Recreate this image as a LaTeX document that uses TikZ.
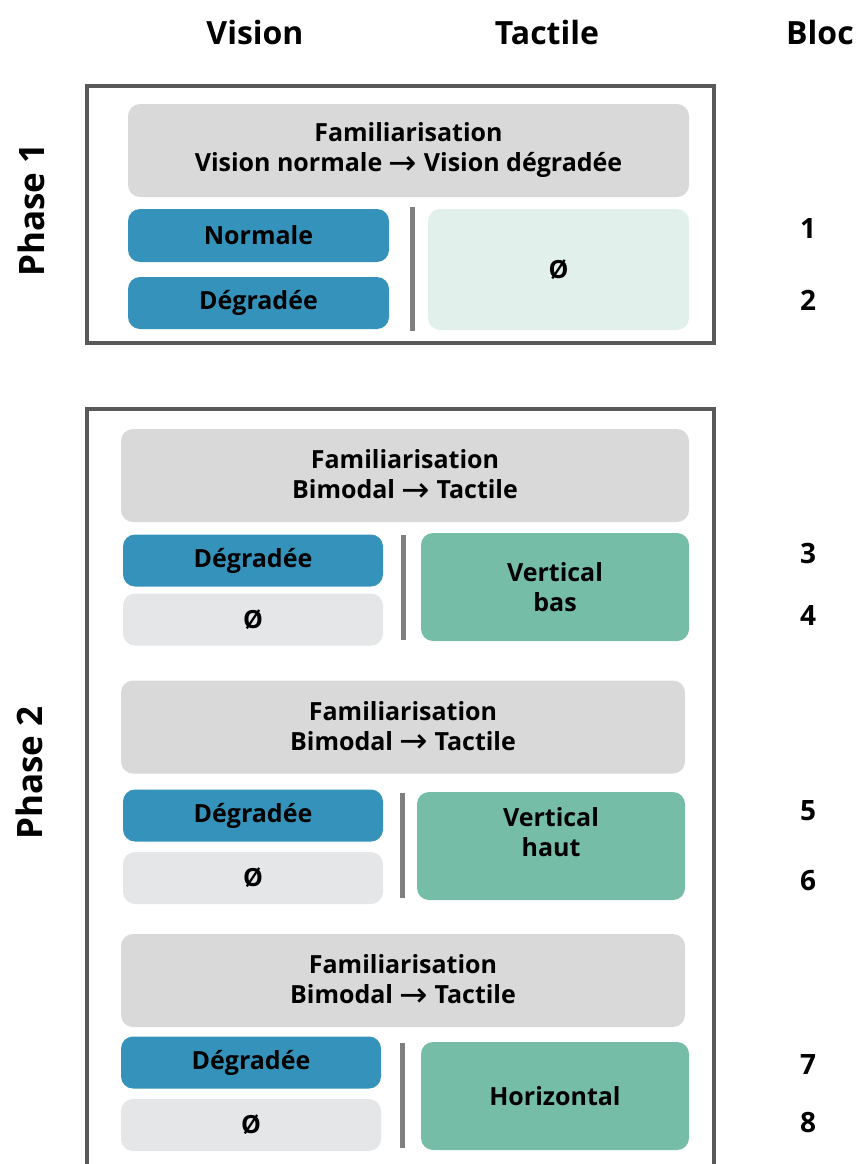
\documentclass[tikz,border=0pt]{standalone}
\usepackage{fontspec}
\setmainfont{Open Sans}
\newfontfamily\fleche{DejaVu Sans}
\usetikzlibrary{positioning}
\definecolor{bleu}{HTML}{3593BB}
\definecolor{vert}{HTML}{75BDA7}
\definecolor{famgris}{HTML}{D9D9D9}
\definecolor{videgris}{HTML}{E4E6E7}
\definecolor{videvert}{HTML}{E2F0EC}
\definecolor{cadregris}{HTML}{595959}
\definecolor{sepgris}{HTML}{7F7F7F}

\begin{document}
\begin{tikzpicture}[x=1pt, y=-1pt,
    font=\bfseries\fontsize{25}{30}\selectfont,
    boite/.style={rounded corners=12pt, inner sep=0pt, align=center},
    fam/.style={boite, fill=famgris, minimum height=93pt},
    vis/.style={boite, fill=bleu, minimum width=260pt, minimum height=52pt},
    vide/.style={boite, fill=videgris, minimum width=260pt, minimum height=52pt},
    tact/.style={boite, fill=vert, minimum width=268pt, minimum height=108pt},
    titre/.style={font=\bfseries\fontsize{32}{38}\selectfont},
    phase/.style={font=\bfseries\fontsize{35}{42}\selectfont, rotate=90},
    numero/.style={font=\bfseries\fontsize{28}{34}\selectfont},
    cadre/.style={draw=cadregris, line width=4pt},
    sep/.style={draw=sepgris, line width=5pt}]
    \def\xn{808}
    \def\fl{\raisebox{-2.5pt}{\fleche\mdseries\fontsize{34}{30}\selectfont →}}
    \useasboundingbox (0,0) rectangle (857,1164);
    % en-tetes
    \node[titre] (hvis) at (255,33) {Vision};
    \node[titre] (htac) at (547,33) {Tactile};
    \node[titre, anchor=west, inner sep=0pt] (hbloc) at (786,33) {Bloc};
    % phase 1
    \draw[cadre] (87,86) rectangle (714,343);
    \node[phase] (p1) at (31,210) {Phase 1};
    \node[fam, minimum width=561pt] (f1) at (408.5,150.5) {Familiarisation\\Vision normale \fl{} Vision dégradée};
    \node[vis, minimum width=261pt, minimum height=53pt] (n1) at (258.5,235.5) {Normale};
    \node[vis, minimum width=261pt] (d1) at (258.5,303) {Dégradée};
    \draw[sep] (412,207) -- (412,331);
    \node[boite, fill=videvert, minimum width=261pt, minimum height=121pt] (t1) at (558.5,269.5) {Ø};
    \node[numero] (b1) at (\xn,229) {1};
    \node[numero] (b2) at (\xn,300) {2};
    % phase 2
    \draw[cadre] (87,1170) -- (87,409) -- (714,409) -- (714,1170);
    \node[phase] (p2) at (29,773) {Phase 2};
    % bas
    \node[fam, minimum width=568pt] (f2) at (405,475.5) {Familiarisation\\Bimodal \fl{} Tactile};
    \node[vis] (d2) at (253,560.5) {Dégradée};
    \node[vide] (v2) at (253,619.5) {Ø};
    \draw[sep] (403,535) -- (403,640);
    \node[tact] (g2) at (555,587) {Vertical\\bas};
    \node[numero] (b3) at (\xn,553) {3};
    \node[numero] (b4) at (\xn,615) {4};
    % haut
    \node[fam, minimum width=564pt] (f3) at (403,727) {Familiarisation\\Bimodal \fl{} Tactile};
    \node[vis] (d3) at (253,815.5) {Dégradée};
    \node[vide] (v3) at (253,878) {Ø};
    \draw[sep] (402,793) -- (402,898);
    \node[tact] (g3) at (551,846) {};
    \node[align=center] (g3t) at (551,832) {Vertical\\haut};
    \node[numero] (b5) at (\xn,811) {5};
    \node[numero] (b6) at (\xn,881) {6};
    % horizontal
    \node[fam, minimum width=564pt] (f4) at (403,980.5) {Familiarisation\\Bimodal \fl{} Tactile};
    \node[vis] (d4) at (251,1062.5) {Dégradée};
    \node[vide] (v4) at (251,1125) {Ø};
    \draw[sep] (402,1043) -- (402,1148);
    \node[tact] (g4) at (555,1096) {Horizontal};
    \node[numero] (b7) at (\xn,1065) {7};
    \node[numero] (b8) at (\xn,1122) {8};
\end{tikzpicture}
\end{document}
